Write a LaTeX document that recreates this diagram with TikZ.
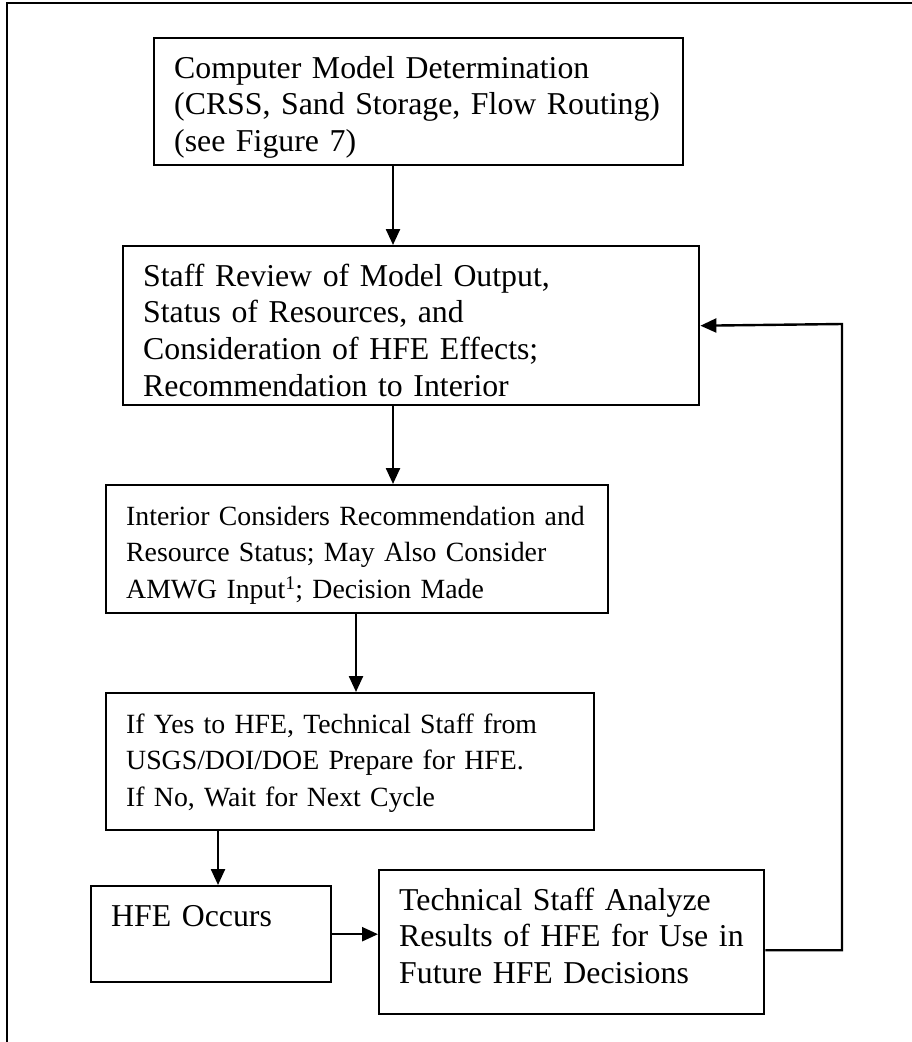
\documentclass[tikz,border=0pt]{standalone}
\usepackage{fontspec}
\setmainfont{Liberation Serif}
\usetikzlibrary{arrows.meta}

\begin{document}
\begin{tikzpicture}[x=1pt,y=-1pt,
    >={Triangle[length=16pt,width=14pt]},
    box/.style={draw,line width=2.4pt,anchor=north west,align=left,
        inner xsep=20pt,inner ysep=0pt,text height=40pt,
        font=\fontsize{31.8pt}{36.6pt}\selectfont},
    smallfont/.style={font=\fontsize{27.8pt}{36.6pt}\selectfont}]
                    \useasboundingbox (0,0) rectangle (912,1042);
                    \draw[line width=2pt] (912,3) -| (7,1042);

                    \path
                    (153,37) node[box,text width=489pt,text depth=87pt](model) {Computer Model Determination\\(CRSS, Sand Storage, Flow Routing)\\(see Figure 7)}
                    (122,245) node[box,text width=536pt,text depth=119pt](review) {Staff Review of Model Output,\\Status of Resources, and\\Consideration of HFE Effects;\\Recommendation to Interior}
                    (105,484) node[box,smallfont,text width=462pt,text depth=88pt](interior) {Interior Considers Recommendation and\\Resource Status; May Also Consider\\AMWG Input\textsuperscript{1}; Decision Made}
                    (105,692) node[box,smallfont,text width=448pt,text depth=97pt](prepare) {If Yes to HFE, Technical Staff from\\USGS/DOI/DOE Prepare for HFE.\\If No, Wait for Next Cycle}
                    (90,885) node[box,text width=200pt,text depth=56pt](occurs) {HFE Occurs}
                    (378,869) node[box,text width=345pt,text depth=104pt](analyze) {Technical Staff Analyze\\Results of HFE for Use in\\Future HFE Decisions};

                    \coordinate (a1) at ([xshift=240pt]model.south west);
                    \coordinate (a2) at ([xshift=271pt]review.south west);
                    \coordinate (a3) at ([xshift=251pt]interior.south west);
                    \coordinate (a4) at ([xshift=113pt]prepare.south west);
                    \coordinate (back) at (842,324);

                    \draw[->,line width=2.4pt] (a1) -- (a1 |- review.north);
                    \draw[->,line width=2.4pt] (a2) -- (a2 |- interior.north);
                    \draw[->,line width=2.4pt] (a3) -- (a3 |- prepare.north);
                    \draw[->,line width=2.4pt] (a4) -- (a4 |- occurs.north);
                    \draw[->,line width=2.4pt] (occurs.east) -- (occurs.east -| analyze.west);
                    \draw[->,line width=2.4pt] ([yshift=-8pt]analyze.east) -| (back) -- (review.east);
                \end{tikzpicture}
\end{document}
